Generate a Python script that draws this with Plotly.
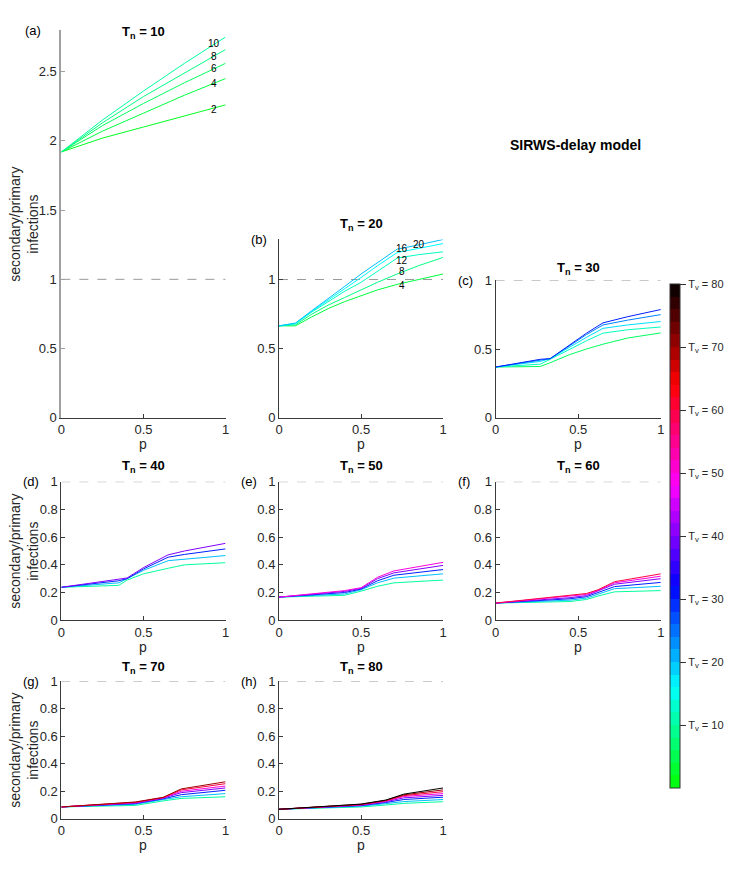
import numpy as np
import plotly.graph_objects as go

W, H = 738, 871
FONT = "Liberation Sans, Arial, Helvetica, sans-serif"

# ---------------- data ----------------
# (a) T_n = 10
p_a = [0, 0.25, 0.5, 0.75, 1]
tv_a = [2, 4, 6, 8, 10]
y_a = [
    [1.92, 2.02, 2.10, 2.18, 2.26],
    [1.92, 2.07, 2.20, 2.33, 2.45],
    [1.92, 2.11, 2.27, 2.42, 2.56],
    [1.92, 2.13, 2.32, 2.49, 2.66],
    [1.92, 2.15, 2.36, 2.56, 2.75],
]
# (b) T_n = 20
p_b = [0, 0.1, 0.2, 0.3, 0.4, 0.5, 0.6, 0.72, 0.85, 1]
tv_b = [4, 8, 12, 16, 20]
y_b = [
    [0.665, 0.665, 0.73, 0.79, 0.84, 0.885, 0.925, 0.965, 1.00, 1.04],
    [0.665, 0.672, 0.75, 0.815, 0.87, 0.925, 0.98, 1.04, 1.10, 1.16],
    [0.665, 0.68, 0.765, 0.84, 0.915, 0.98, 1.06, 1.155, 1.18, 1.20],
    [0.665, 0.683, 0.77, 0.85, 0.935, 1.015, 1.10, 1.195, 1.225, 1.26],
    [0.665, 0.685, 0.775, 0.86, 0.95, 1.04, 1.12, 1.22, 1.25, 1.29],
]
# (c) T_n = 30
p_c = [0, 0.27, 0.33, 0.45, 0.55, 0.65, 0.8, 1]
tv_c = [6, 12, 18, 24, 30]
y_c = [
    [0.369, 0.373, 0.40, 0.46, 0.50, 0.535, 0.58, 0.617],
    [0.369, 0.39, 0.425, 0.50, 0.56, 0.615, 0.64, 0.66],
    [0.369, 0.41, 0.43, 0.515, 0.585, 0.65, 0.675, 0.70],
    [0.369, 0.42, 0.43, 0.525, 0.605, 0.675, 0.71, 0.75],
    [0.369, 0.425, 0.43, 0.53, 0.615, 0.69, 0.735, 0.787],
]
# (d) T_n = 40
p_d = [0, 0.35, 0.4, 0.5, 0.65, 0.75, 1]
tv_d = [10, 20, 30, 40]
y_d = [
    [0.238, 0.252, 0.29, 0.335, 0.375, 0.40, 0.415],
    [0.238, 0.27, 0.30, 0.36, 0.43, 0.44, 0.467],
    [0.238, 0.285, 0.30, 0.37, 0.455, 0.475, 0.515],
    [0.238, 0.295, 0.305, 0.38, 0.472, 0.50, 0.555],
]
# (e) T_n = 50
p_e = [0, 0.4, 0.5, 0.6, 0.7, 1]
tv_e = [10, 20, 30, 40, 50]
y_e = [
    [0.167, 0.18, 0.21, 0.245, 0.27, 0.29],
    [0.167, 0.19, 0.22, 0.27, 0.304, 0.335],
    [0.167, 0.20, 0.225, 0.285, 0.325, 0.366],
    [0.167, 0.208, 0.23, 0.30, 0.342, 0.396],
    [0.167, 0.214, 0.235, 0.31, 0.356, 0.418],
]
# (f) T_n = 60
p_f = [0, 0.45, 0.55, 0.62, 0.72, 1]
tv_f = [10, 20, 30, 40, 50, 60]
y_f = [
    [0.124, 0.135, 0.15, 0.175, 0.205, 0.214],
    [0.124, 0.145, 0.16, 0.19, 0.228, 0.245],
    [0.124, 0.155, 0.17, 0.20, 0.243, 0.273],
    [0.124, 0.163, 0.178, 0.21, 0.26, 0.30],
    [0.124, 0.172, 0.186, 0.215, 0.27, 0.318],
    [0.124, 0.178, 0.193, 0.22, 0.278, 0.335],
]
# (g) T_n = 70
p_g = [0, 0.45, 0.62, 0.73, 1]
tv_g = [10, 20, 30, 40, 50, 60, 70]
y_g = [
    [0.086, 0.097, 0.13, 0.148, 0.16],
    [0.086, 0.105, 0.14, 0.16, 0.183],
    [0.086, 0.11, 0.145, 0.175, 0.207],
    [0.086, 0.114, 0.15, 0.19, 0.224],
    [0.086, 0.117, 0.152, 0.20, 0.238],
    [0.086, 0.12, 0.154, 0.21, 0.255],
    [0.086, 0.122, 0.156, 0.217, 0.269],
]
# (h) T_n = 80
p_h = [0, 0.5, 0.65, 0.76, 1]
tv_h = [10, 20, 30, 40, 50, 60, 70, 80]
y_h = [
    [0.069, 0.086, 0.10, 0.112, 0.124],
    [0.069, 0.092, 0.11, 0.125, 0.14],
    [0.069, 0.096, 0.118, 0.14, 0.157],
    [0.069, 0.099, 0.124, 0.152, 0.17],
    [0.069, 0.101, 0.128, 0.162, 0.183],
    [0.069, 0.103, 0.131, 0.168, 0.197],
    [0.069, 0.105, 0.134, 0.174, 0.21],
    [0.069, 0.107, 0.136, 0.179, 0.224],
]

tn_values = [10, 20, 30, 40, 50, 60, 70, 80]
panel_letters = ["a", "b", "c", "d", "e", "f", "g", "h"]
cbar_ticks = [10, 20, 30, 40, 50, 60, 70, 80]

# line labels (panels a and b): label x positions
label_x_a = [0.93, 0.93, 0.93, 0.93, 0.93]
label_x_b = [0.75, 0.75, 0.75, 0.75, 0.85]
label_shift_a = [-2, 0, 0, 0, 1]
label_shift_b = [-2, 1, -3, 3, 0]

# ---------------- style / layout (pixels) ----------------
# (left, right, top, bottom, ymax, yticks)
geom = [
    (58, 224, 23.5, 418, 2.8, [0, 0.5, 1, 1.5, 2, 2.5]),
    (278, 444, 236.5, 418, 1.29, [0, 0.5, 1]),
    (497, 664, 278, 418, 1.0, [0, 0.5, 1]),
    (58, 224, 483, 624, 1.0, [0, 0.2, 0.4, 0.6, 0.8, 1]),
    (278, 444, 483, 624, 1.0, [0, 0.2, 0.4, 0.6, 0.8, 1]),
    (497, 664, 483, 624, 1.0, [0, 0.2, 0.4, 0.6, 0.8, 1]),
    (58, 224, 686, 826, 1.0, [0, 0.2, 0.4, 0.6, 0.8, 1]),
    (278, 444, 686, 826, 1.0, [0, 0.2, 0.4, 0.6, 0.8, 1]),
]
title_y = [26, 221, 266, 468, 468, 468, 672, 672]
letter_x = [29, 258, 467, 27, 248, 465, 27, 248]

STOPS = [(0, (0, 255, 0)), (16, (0, 255, 255)), (32, (0, 0, 255)),
         (48, (255, 0, 255)), (64, (255, 0, 0)), (80, (0, 0, 0))]


def cmap(v):
    for (v0, c0), (v1, c1) in zip(STOPS[:-1], STOPS[1:]):
        if v <= v1:
            t = (v - v0) / (v1 - v0)
            c = [round(a + (b - a) * t) for a, b in zip(c0, c1)]
            return "rgb(%d,%d,%d)" % tuple(c)
    return "rgb(0,0,0)"


def fx(px):
    return px / W


def fy(py):
    return 1 - py / H


def fmt(v):
    return "%g" % v


datasets = [
    (p_a, tv_a, y_a), (p_b, tv_b, y_b), (p_c, tv_c, y_c), (p_d, tv_d, y_d),
    (p_e, tv_e, y_e), (p_f, tv_f, y_f), (p_g, tv_g, y_g), (p_h, tv_h, y_h),
]

fig = go.Figure()
layout = dict(
    width=W, height=H, margin=dict(l=0, r=0, t=0, b=0),
    paper_bgcolor="white", plot_bgcolor="white",
    showlegend=False, font=dict(family=FONT, color="#262626", size=13),
)
annotations = []
shapes = []

for i, ((p, tvs, ys), (l, r, t, b, ymax, yt)) in enumerate(zip(datasets, geom)):
    k = "" if i == 0 else str(i + 1)
    xa, ya = "x" + k, "y" + k
    axcol = "#3a3a3a"
    ycol = "#a0a0a0" if i == 0 else axcol
    ywid = 2 if i == 0 else 1
    layout["xaxis" + k] = dict(
        domain=[fx(l), fx(r)], range=[0, 1], anchor=ya,
        tickvals=[0, 0.5, 1], ticktext=["0", "0.5", "1"],
        showline=True, linecolor=axcol, linewidth=1, ticks="inside",
        ticklen=4, tickcolor=axcol, showgrid=False, zeroline=False,
        tickfont=dict(size=13, color="#262626"),
    )
    layout["yaxis" + k] = dict(
        domain=[fy(b), fy(t)], range=[0, ymax], anchor=xa,
        tickvals=yt, ticktext=[fmt(v) for v in yt],
        showline=True, linecolor=ycol, linewidth=ywid, ticks="inside",
        ticklen=4, tickcolor=ycol, showgrid=False, zeroline=False,
        tickfont=dict(size=13, color="#262626"),
    )
    # dashed reference line at 1
    shapes.append(dict(type="line", xref=xa, yref=ya, x0=0, x1=1, y0=1, y1=1,
                       line=dict(color="#999999", width=1, dash="dash"),
                       layer="below"))
    for tv, yv in zip(tvs, ys):
        fig.add_trace(go.Scatter(x=p, y=yv, mode="lines", xaxis=xa, yaxis=ya,
                                 line=dict(color=cmap(tv), width=1),
                                 hoverinfo="skip"))
    # title
    annotations.append(dict(
        x=fx((l + r) / 2), y=fy(title_y[i]), xref="paper", yref="paper",
        text="<b>T<sub>n</sub> = %d</b>" % tn_values[i], showarrow=False,
        font=dict(size=13, color="black"), xanchor="center", yanchor="middle"))
    # panel letter
    annotations.append(dict(
        x=fx(letter_x[i]), y=fy(t), xref="paper", yref="paper",
        text="(%s)" % panel_letters[i], showarrow=False,
        font=dict(size=13, color="black"), xanchor="center", yanchor="middle"))
    # x-axis title
    annotations.append(dict(
        x=fx((l + r) / 2), y=fy(b + 27), xref="paper", yref="paper",
        text="p", showarrow=False, font=dict(size=14, color="#262626"),
        xanchor="center", yanchor="middle"))
    # y-axis title
    if i in (0, 3, 6):
        annotations.append(dict(
            x=fx(20), y=fy((t + b) / 2), xref="paper", yref="paper",
            text="secondary/primary<br>infections", showarrow=False,
            textangle=-90, font=dict(size=14, color="#262626"),
            xanchor="center", yanchor="middle"))

# in-line labels for panels a and b
for (p, tvs, ys), lx, sh, k in [((p_a, tv_a, y_a), label_x_a, label_shift_a, ""),
                                ((p_b, tv_b, y_b), label_x_b, label_shift_b, "2")]:
    for tv, yv, xx, s in zip(tvs, ys, lx, sh):
        annotations.append(dict(
            x=xx, y=float(np.interp(xx, p, yv)), xref="x" + k, yref="y" + k,
            text=str(tv), showarrow=False, font=dict(size=10, color="black"),
            xanchor="center", yanchor="middle", yshift=s))

annotations.append(dict(
    x=fx(578), y=fy(140), xref="paper", yref="paper",
    text="<b>SIRWS-delay model</b>", showarrow=False,
    font=dict(size=14, color="black"), xanchor="center", yanchor="middle"))

# stepped colorscale (40 bands)
NB = 40
cs = []
for j in range(NB):
    col = cmap((j + 0.5) * 80 / NB)
    cs.append([j / NB, col])
    cs.append([(j + 1) / NB, col])

fig.add_trace(go.Scatter(
    x=[None], y=[None], mode="markers", xaxis="x", yaxis="y",
    marker=dict(color=[0], cmin=0, cmax=80, colorscale=cs, showscale=True,
                colorbar=dict(
                    x=fx(673), xanchor="left", y=fy(282), yanchor="top",
                    lenmode="pixels", len=504, thicknessmode="pixels",
                    thickness=10, outlinewidth=1, outlinecolor="#333333",
                    tickvals=cbar_ticks,
                    ticktext=["T<sub>v</sub> = %d" % v for v in cbar_ticks],
                    ticks="outside", ticklen=6, tickcolor="#333333",
                    tickfont=dict(size=11, color="#262626"), xpad=0, ypad=0)),
    hoverinfo="skip"))

layout["annotations"] = annotations
layout["shapes"] = shapes
fig.update_layout(**layout)
fig.write_html(
    "out.html",
    config={"displayModeBar": False},
    post_script="document.body.style.margin='0px';document.body.style.overflow='hidden';",
)
